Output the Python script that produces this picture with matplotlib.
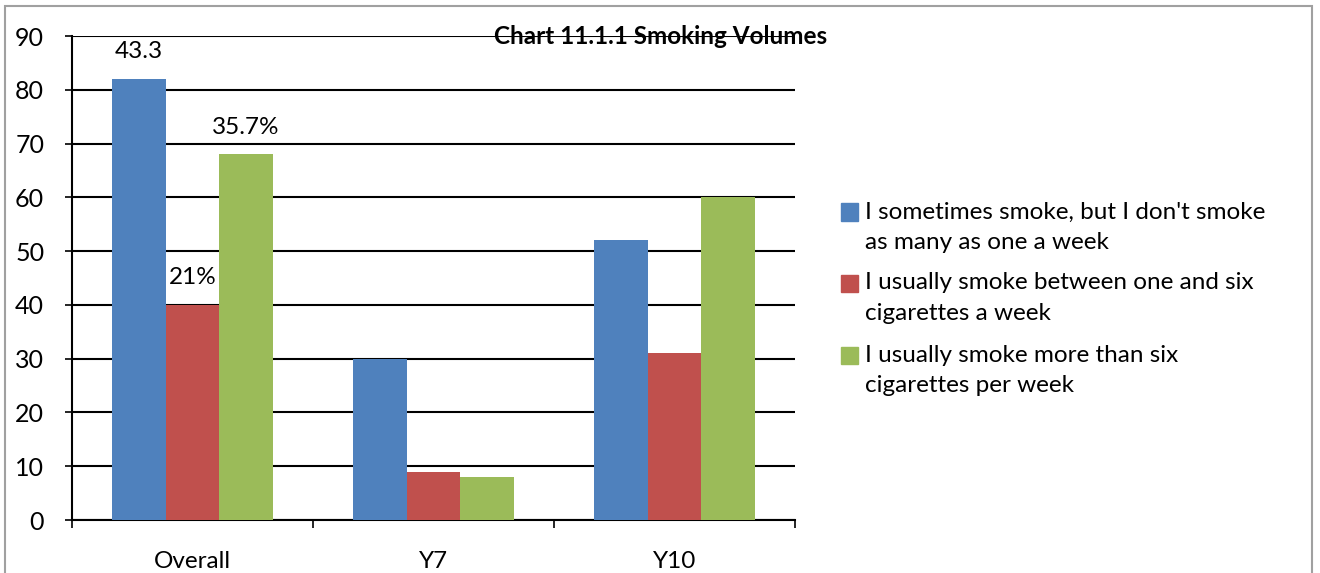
import matplotlib
matplotlib.use("Agg")
import matplotlib.pyplot as plt
from matplotlib.patches import Rectangle
import numpy as np

categories = ["Overall", "Y7", "Y10"]
series_names = [
    ["I sometimes smoke, but I don't smoke", "as many as one a week"],
    ["I usually smoke between one and six", "cigarettes a week"],
    ["I usually smoke more than six", "cigarettes per week"],
]
sometimes = [82, 30, 52]
one_to_six = [40, 9, 31]
more_than_six = [68, 8, 60]
series_values = [sometimes, one_to_six, more_than_six]
colors = ["#4F81BD", "#C0504D", "#9BBB59"]

# custom data labels on the Overall group: (series index, text)
label_series = [0, 1, 2]
label_texts = ["43.3", "21%", "35.7%"]

yticks = list(range(0, 100, 10))
title = "Chart 11.1.1 Smoking Volumes"

plt.rcParams['font.family'] = ['Lato', 'DejaVu Sans']
FS = 17.5

W, H = 1320, 573
fig = plt.figure(figsize=(W / 100, H / 100), dpi=100)
ax = fig.add_axes([72 / W, 1 - 520 / H, (795 - 72) / W, (520 - 36) / H])

x = np.arange(len(categories))
bw = 0.222
for i, vals in enumerate(series_values):
    ax.bar(x + (i - 1) * bw, vals, width=bw, color=colors[i], zorder=3)

for s, txt in zip(label_series, label_texts):
    v = series_values[s][0]
    ax.annotate(txt, (x[0] + (s - 1) * bw, v), xytext=(0, 12), textcoords="offset points",
                ha="center", va="bottom", fontsize=FS, color="black", zorder=4)

ax.set_xlim(-0.5, 2.5)
ax.set_ylim(0, 90)
ax.set_yticks(yticks)
ax.set_yticklabels([str(t) for t in yticks], fontsize=FS + 0.5)
ax.yaxis.grid(True, color="black", linewidth=1.5, zorder=0)
ax.set_axisbelow(True)
ax.tick_params(axis="y", direction="out", length=5, width=1.2, pad=15)

ax.set_xticks(x)
ax.set_xticklabels(categories, fontsize=FS)
ax.tick_params(axis="x", which="major", length=0, pad=22)
ax.set_xticks(np.arange(-0.5, 3.0, 1.0), minor=True)
ax.tick_params(axis="x", which="minor", direction="out", length=6, width=1.2)

for side in ["top", "right"]:
    ax.spines[side].set_visible(False)
for side in ["left", "bottom"]:
    ax.spines[side].set_color("black")
    ax.spines[side].set_linewidth(1.5)

# title
fig.text(661 / W, 1 - 37 / H, title, ha="center", va="center", fontsize=FS,
         fontweight="bold", color="black")

# legend drawn manually
sq = 17
first_line_y = [212, 283, 355]
for i, lines in enumerate(series_names):
    yc = first_line_y[i]
    fig.patches.append(Rectangle((841 / W, 1 - (yc + sq / 2) / H), sq / W, sq / H,
                                 transform=fig.transFigure, color=colors[i]))
    for j, line in enumerate(lines):
        fig.text(865 / W, 1 - (yc + j * 30.5) / H, line, ha="left", va="center",
                 fontsize=FS, color="black")

# outer frame
fig.patches.append(Rectangle((5 / W, -0.05), (1312 - 5) / W, 1 - 6 / H + 0.05,
                             transform=fig.transFigure, fill=False,
                             edgecolor="#A0A0A0", linewidth=1.5))

fig.savefig("out.png", dpi=100)
